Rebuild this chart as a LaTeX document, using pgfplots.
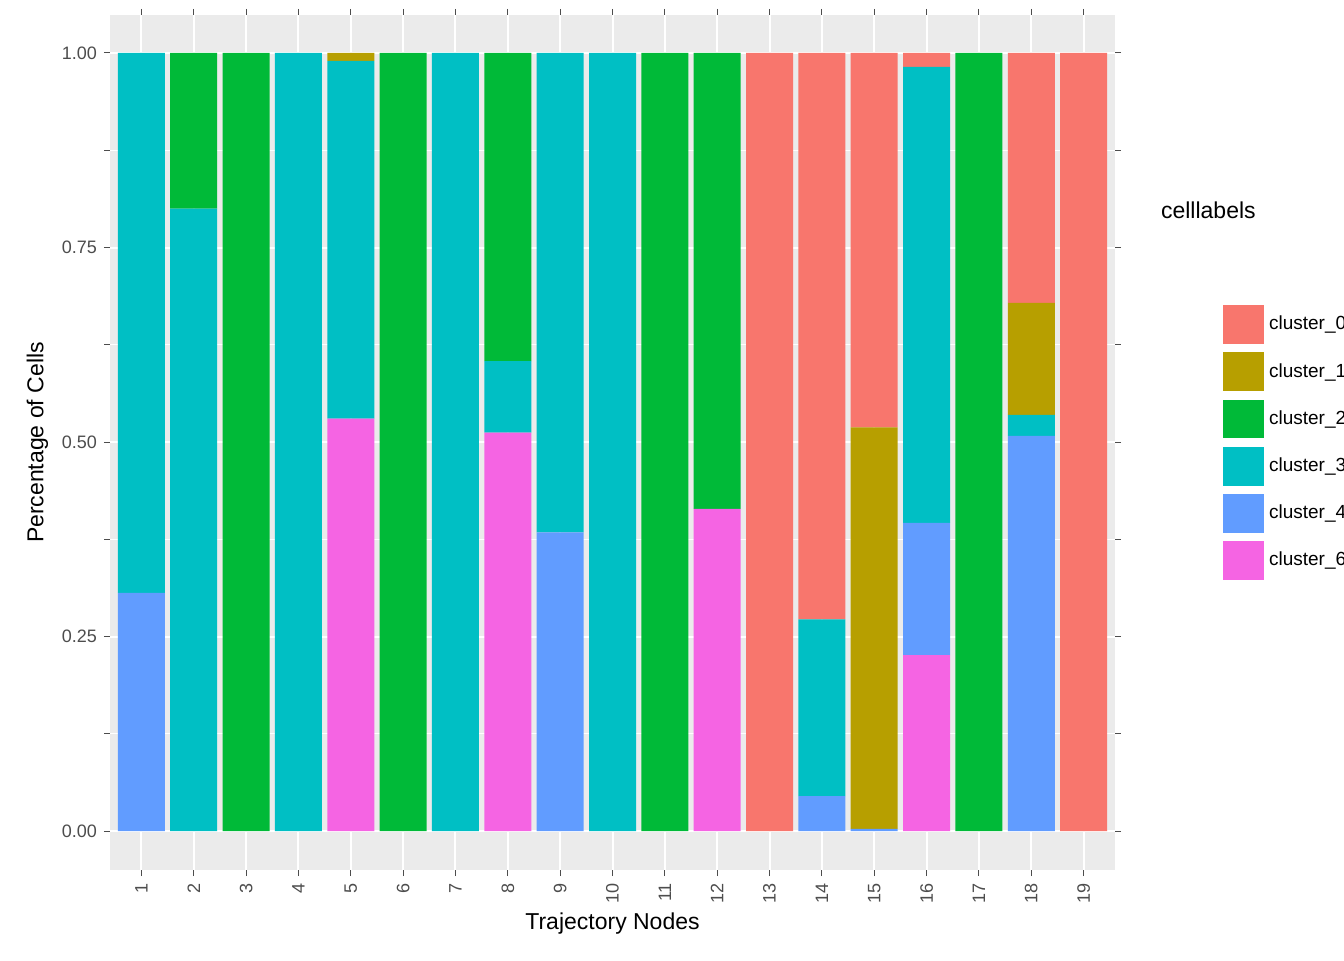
\documentclass[border=0pt]{standalone}
\usepackage{pgfplots}
\pgfplotsset{compat=1.18}
\usepackage{fontspec}
\setmainfont{Liberation Sans}
\definecolor{cz}{HTML}{F8766D}
\definecolor{co}{HTML}{B79F00}
\definecolor{ct}{HTML}{00BA38}
\definecolor{cth}{HTML}{00BFC4}
\definecolor{cf}{HTML}{619CFF}
\definecolor{cs}{HTML}{F564E3}
\definecolor{bg}{HTML}{EBEBEB}
\definecolor{tk}{HTML}{4D4D4D}
\begin{document}
\begin{tikzpicture}
\path[use as bounding box] (-55pt,-45pt) rectangle (617pt,435pt);
\begin{axis}[
  at={(0,0)}, anchor=south west,
  scale only axis, width=502.5pt, height=427.5pt,
  xmin=0.4, xmax=19.6, ymin=-0.05, ymax=1.0488,
  ybar stacked, bar width=23.5pt,
  axis background/.style={fill=bg},
  axis line style={draw=none},
  xtick={1,...,19}, ytick={0,0.25,0.5,0.75,1},
  minor xtick={}, minor ytick={0.125,0.375,0.625,0.875},
  grid=both,
  major grid style={white, line width=1pt},
  minor grid style={white, line width=0.5pt},
  tick style={tk, line width=0.5pt}, tick align=outside, major tick length=3pt,
  xticklabel style={rotate=90, anchor=east, font=\fontsize{9}{10}\selectfont, text=tk},
  yticklabel style={font=\fontsize{9}{10}\selectfont, text=tk},
  yticklabel={\pgfmathprintnumber[fixed,fixed zerofill,precision=2]{\tick}},
  /pgf/number format/assume math mode=true,
  xlabel={Trajectory Nodes}, ylabel={Percentage of Cells},
  label style={font=\fontsize{11.5}{13}\selectfont},
  xlabel style={yshift=2pt},
  every axis plot/.append style={draw=none},
  legend image code/.code={\filldraw[draw=white,line width=0.6pt] (0pt,-10pt) rectangle (21pt,10pt);},
  reverse legend,
  legend style={at={(1.1,0.5)}, anchor=west, draw=none, fill=none,
    font=\fontsize{9.5}{11}\selectfont, row sep=3pt},
  legend cell align=left,
]
% cluster_6
\addplot[fill=cs] coordinates {(1,0)(2,0)(3,0)(4,0)(5,0.530)(6,0)(7,0)(8,0.512)(9,0)(10,0)(11,0)(12,0.414)(13,0)(14,0)(15,0)(16,0.226)(17,0)(18,0)(19,0)};
% cluster_4
\addplot[fill=cf] coordinates {(1,0.306)(2,0)(3,0)(4,0)(5,0)(6,0)(7,0)(8,0)(9,0.384)(10,0)(11,0)(12,0)(13,0)(14,0.045)(15,0.003)(16,0.170)(17,0)(18,0.508)(19,0)};
% cluster_3
\addplot[fill=cth] coordinates {(1,0.694)(2,0.80)(3,0)(4,1)(5,0.46)(6,0)(7,1)(8,0.092)(9,0.616)(10,1)(11,0)(12,0)(13,0)(14,0.227)(15,0)(16,0.586)(17,0)(18,0.027)(19,0)};
% cluster_2
\addplot[fill=ct] coordinates {(1,0)(2,0.20)(3,1)(4,0)(5,0)(6,1)(7,0)(8,0.396)(9,0)(10,0)(11,1)(12,0.586)(13,0)(14,0)(15,0)(16,0)(17,1)(18,0)(19,0)};
% cluster_1
\addplot[fill=co] coordinates {(1,0)(2,0)(3,0)(4,0)(5,0.01)(6,0)(7,0)(8,0)(9,0)(10,0)(11,0)(12,0)(13,0)(14,0)(15,0.516)(16,0)(17,0)(18,0.144)(19,0)};
% cluster_0
\addplot[fill=cz] coordinates {(1,0)(2,0)(3,0)(4,0)(5,0)(6,0)(7,0)(8,0)(9,0)(10,0)(11,0)(12,0)(13,1)(14,0.728)(15,0.481)(16,0.018)(17,0)(18,0.321)(19,1)};
\legend{cluster\_6,cluster\_4,cluster\_3,cluster\_2,cluster\_1,cluster\_0}
\end{axis}
\node[anchor=south west, font=\fontsize{11.5}{13}\selectfont] at (522pt,322pt) {celllabels};
\end{tikzpicture}
\end{document}
